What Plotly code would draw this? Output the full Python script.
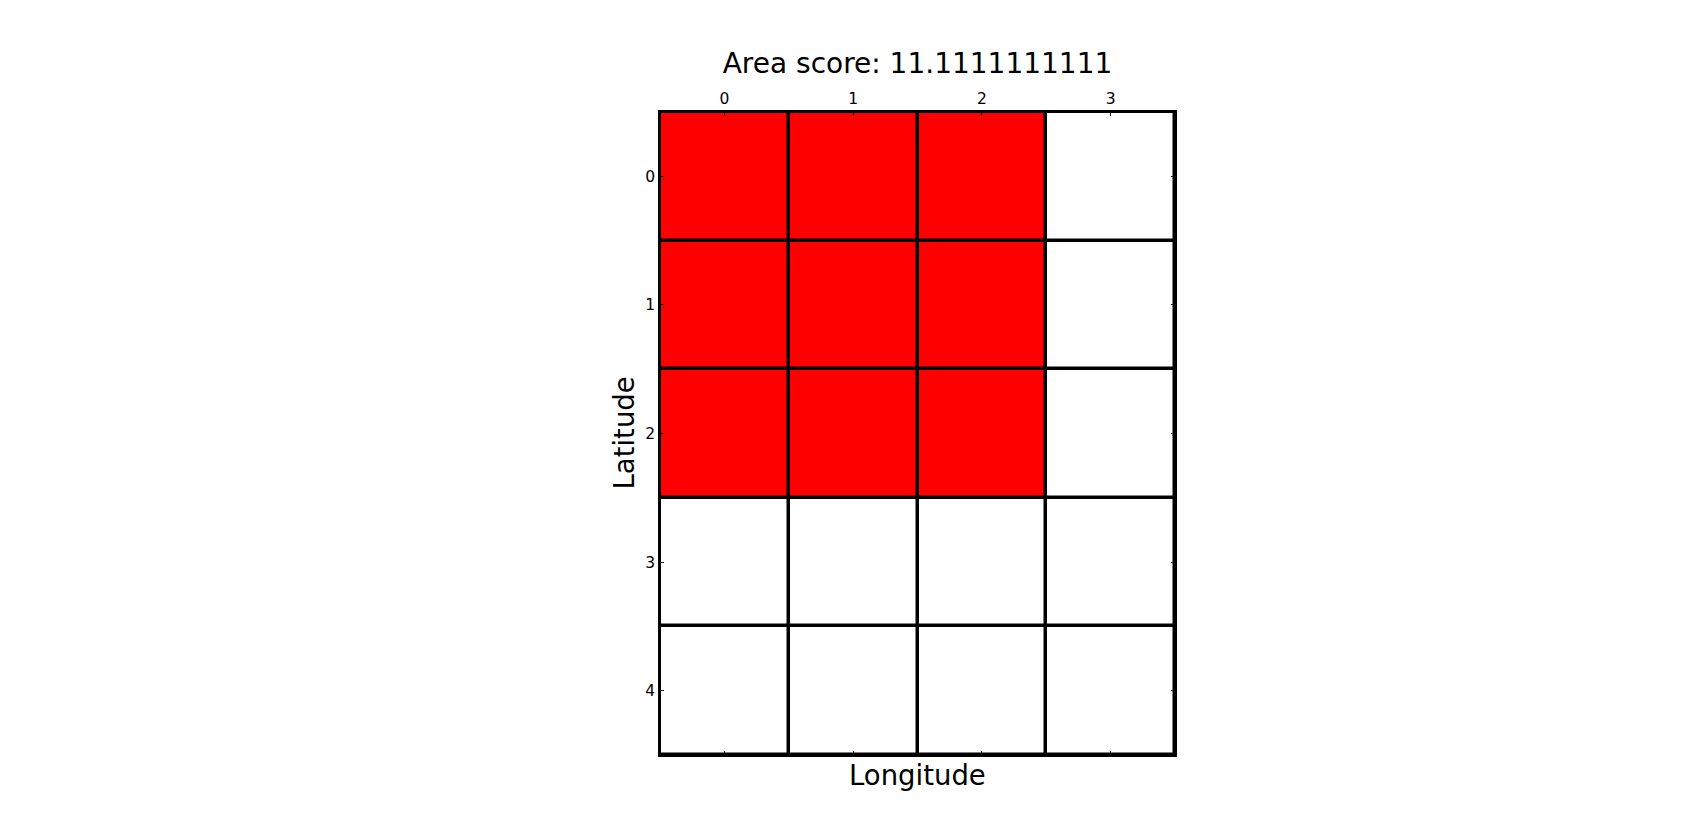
import plotly.graph_objects as go

lon = [0, 1, 2, 3]
lat = [0, 1, 2, 3, 4]
cells = [
    [1, 1, 1, 0],
    [1, 1, 1, 0],
    [1, 1, 1, 0],
    [0, 0, 0, 0],
    [0, 0, 0, 0],
]
title_text = "Area score: 11.1111111111"

W, H = 1707, 831
L, R, T, B = 660, 532, 112, 76

fig = go.Figure(go.Heatmap(
    x=lon, y=lat, z=cells,
    colorscale=[[0, "#ffffff"], [1, "#ff0000"]],
    zmin=0, zmax=1, showscale=False,
    xgap=3.5, ygap=3.5, hoverinfo="skip",
))

font = "DejaVu Sans, sans-serif"
fig.update_layout(
    width=W, height=H,
    margin=dict(l=L, r=R, t=T, b=B, pad=0),
    paper_bgcolor="white", plot_bgcolor="black",
    font=dict(family=font, color="black"),
    title=dict(text=title_text, x=(L + (W - L - R) / 2) / W, xanchor="center",
               y=1 - 63 / H, yanchor="middle", yref="container",
               font=dict(size=28, family=font, color="black")),
    xaxis=dict(side="top", range=[-0.5, 3.5], tickvals=lon, ticktext=[str(v) for v in lon],
               ticks="inside", ticklen=4, tickcolor="black", tickwidth=1,
               showline=True, linecolor="black", linewidth=1.5, mirror="ticks",
               showgrid=False, zeroline=False, tickfont=dict(size=15.5, family=font)),
    yaxis=dict(range=[4.5, -0.5], tickvals=lat, ticktext=[str(v) for v in lat],
               ticks="inside", ticklen=4, tickcolor="black", tickwidth=1,
               showline=True, linecolor="black", linewidth=1.5, mirror="ticks",
               showgrid=False, zeroline=False, tickfont=dict(size=15.5, family=font)),
    annotations=[
        dict(text="Longitude", xref="paper", yref="paper", x=0.5, y=0,
             yshift=-20, xanchor="center", yanchor="middle", showarrow=False,
             font=dict(size=27.5, family=font, color="black")),
        dict(text="Latitude", xref="paper", yref="paper", x=0, y=0.5,
             xshift=-37, xanchor="center", yanchor="middle", textangle=-90,
             showarrow=False, font=dict(size=27.5, family=font, color="black")),
    ],
)

fig.write_html("out.html")
